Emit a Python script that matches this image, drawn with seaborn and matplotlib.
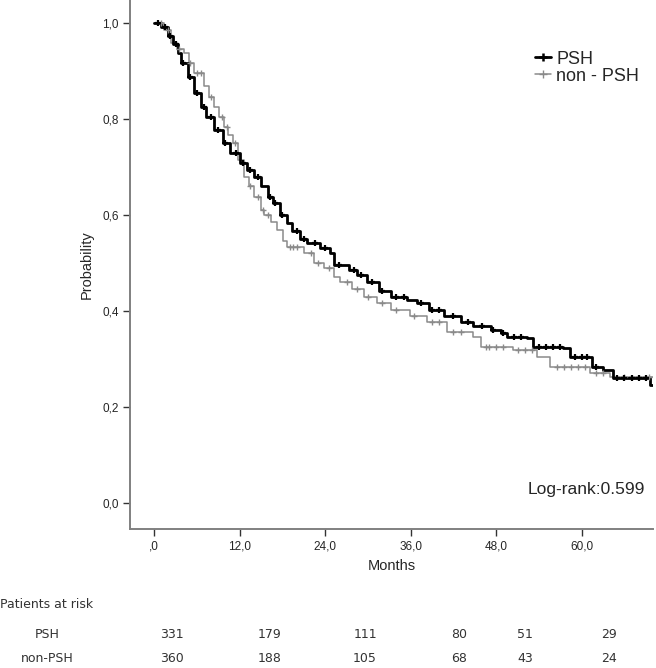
import numpy as np
import pandas as pd
import seaborn as sns
import matplotlib.pyplot as plt

# Kaplan-Meier steps (months, survival probability)
psh_time = [0, 1.0, 1.9, 2.6, 3.3, 3.7, 4.7, 5.6, 6.5, 7.2, 8.4, 9.6, 10.7, 12.1, 13.0,
            14.0, 15.0, 15.9, 16.6, 17.7, 18.6, 19.4, 20.5, 21.5, 23.3, 24.7, 25.2, 27.3,
            28.5, 29.9, 31.5, 33.2, 35.5, 36.9, 38.5, 40.6, 43.0, 44.8, 47.2, 48.6, 49.5,
            52.3, 53.2, 57.4, 58.4, 61.4, 63.0, 64.4, 69.6, 70.0]
psh_surv = [1.0, 0.99, 0.971, 0.955, 0.936, 0.915, 0.887, 0.853, 0.825, 0.804, 0.776,
            0.749, 0.728, 0.707, 0.692, 0.679, 0.66, 0.637, 0.624, 0.60, 0.582, 0.565,
            0.55, 0.54, 0.53, 0.52, 0.496, 0.485, 0.474, 0.46, 0.44, 0.429, 0.422, 0.415,
            0.401, 0.388, 0.377, 0.367, 0.36, 0.353, 0.346, 0.342, 0.325, 0.322, 0.304,
            0.283, 0.276, 0.259, 0.245, 0.245]

npsh_time = [0, 1.4, 2.3, 3.2, 4.2, 4.9, 5.6, 7.0, 7.7, 8.4, 9.1, 9.8, 10.4, 11.0, 11.7,
             12.6, 13.3, 14.0, 15.0, 15.4, 16.4, 17.3, 18.1, 18.7, 21.0, 22.4, 23.8, 25.2,
             26.1, 27.8, 29.4, 31.3, 33.2, 35.9, 38.3, 41.1, 44.8, 45.8, 50.4, 53.7, 55.6,
             61.2, 64.0, 70.0]
npsh_surv = [1.0, 0.985, 0.957, 0.945, 0.936, 0.915, 0.894, 0.867, 0.845, 0.825, 0.803,
             0.783, 0.765, 0.749, 0.714, 0.679, 0.66, 0.637, 0.61, 0.60, 0.585, 0.568,
             0.545, 0.533, 0.52, 0.499, 0.488, 0.471, 0.46, 0.445, 0.429, 0.415, 0.401,
             0.388, 0.377, 0.356, 0.346, 0.325, 0.318, 0.304, 0.283, 0.27, 0.262, 0.262]

# censored observations (+ marks)
psh_cens = [0.5, 1.5, 2.2, 3.0, 4.0, 5.0, 6.0, 7.0, 8.0, 9.0, 10.0, 11.5, 12.5, 13.5, 14.5,
            16.2, 17.0, 18.0, 20.0, 21.0, 22.5, 24.0, 26.0, 28.0, 29.0, 30.5, 32.0, 34.0,
            35.0, 37.5, 39.0, 40.0, 42.0, 44.0, 46.0, 47.5, 49.0, 50.5, 51.5, 54.0, 55.0,
            56.0, 57.0, 59.0, 60.0, 60.8, 62.0, 65.0, 66.0, 67.0, 68.0, 69.0]
npsh_cens = [1.0, 2.0, 3.5, 5.0, 6.0, 6.5, 8.0, 9.5, 10.2, 11.3, 13.5, 14.5, 15.2, 16.0,
             19.0, 19.5, 20.0, 22.0, 23.0, 24.5, 27.0, 28.5, 30.0, 32.0, 34.0, 36.5, 39.0,
             40.0, 42.0, 43.0, 46.5, 47.0, 48.0, 49.0, 51.0, 52.0, 53.0, 56.5, 57.5, 58.5,
             59.5, 60.5, 62.0, 63.0, 66.0, 69.5]

x_ticks = [0, 12, 24, 36, 48, 60]
x_labels = [',0', '12,0', '24,0', '36,0', '48,0', '60,0']
y_ticks = [0.0, 0.2, 0.4, 0.6, 0.8, 1.0]
y_labels = ['0,0', '0,2', '0,4', '0,6', '0,8', '1,0']

risk_groups = ['PSH', 'non-PSH']
risk_psh = [331, 179, 111, 80, 51, 29]
risk_npsh = [360, 188, 105, 68, 43, 24]
risk_xpos = [172, 270, 365, 459, 525, 609]  # pixel positions of the columns

sns.set_style('white')
plt.rcParams['font.family'] = ['Liberation Sans', 'DejaVu Sans']

fig = plt.figure(figsize=(6.56, 6.68), dpi=100)
ax = fig.add_axes([130 / 656, 1 - 529 / 668, 523 / 656, 529 / 668])

df_psh = pd.DataFrame({'time': psh_time, 'surv': psh_surv})
df_npsh = pd.DataFrame({'time': npsh_time, 'surv': npsh_surv})

sns.lineplot(data=df_npsh, x='time', y='surv', ax=ax, color='#8a8a8a', linewidth=1.1,
             drawstyle='steps-post', estimator=None)
sns.lineplot(data=df_psh, x='time', y='surv', ax=ax, color='black', linewidth=2.0,
             drawstyle='steps-post', estimator=None)


def step_at(times, surv, t):
    i = np.searchsorted(times, t, side='right') - 1
    return np.array(surv)[i]


ax.plot(npsh_cens, step_at(npsh_time, npsh_surv, npsh_cens), linestyle='none',
        marker='+', color='#8a8a8a', markersize=5, markeredgewidth=1.0)
ax.plot(psh_cens, step_at(psh_time, psh_surv, psh_cens), linestyle='none',
        marker='+', color='black', markersize=5, markeredgewidth=1.6)

ax.set_xlim(-3.4, 70)
ax.set_ylim(-0.055, 1.047)
ax.set_xticks(x_ticks)
ax.set_xticklabels(x_labels)
ax.set_yticks(y_ticks)
ax.set_yticklabels(y_labels)
ax.tick_params(axis='both', direction='out', length=5, width=1, color='#333333',
               labelsize=8.5, pad=3, bottom=True, left=True)
for side in ['top', 'right']:
    ax.spines[side].set_visible(False)
for side in ['left', 'bottom']:
    ax.spines[side].set_color('#808080')
    ax.spines[side].set_linewidth(1.4)

ax.set_xlabel('Months', fontsize=10.5, labelpad=5)
ax.set_ylabel('Probability', fontsize=10.5, labelpad=6)

h1, = ax.plot([], [], color='black', linewidth=2.0, marker='+', markersize=6, markeredgewidth=1.8)
h2, = ax.plot([], [], color='#8a8a8a', linewidth=1.1, marker='+', markersize=6)
ax.legend([h1, h2], ['PSH', 'non - PSH'], loc='upper left', bbox_to_anchor=(0.76, 0.918),
          frameon=False, fontsize=13, handlelength=0.9, handletextpad=0.3,
          labelspacing=0.0, borderaxespad=0)

ax.text(0.985, 0.075, 'Log-rank:0.599', transform=ax.transAxes, ha='right', va='center',
        fontsize=12.5)

# patients at risk table
tfont = ['DejaVu Sans']
tsize = 9
fig.text(0, 1 - 604 / 668, 'Patients at risk', fontsize=tsize, va='center', ha='left',
         family=tfont, color='#333333')
for row_y, name, vals in [(634, risk_groups[0], risk_psh), (658, risk_groups[1], risk_npsh)]:
    fig.text(47 / 656, 1 - row_y / 668, name, fontsize=tsize, va='center', ha='center',
             family=tfont, color='#333333')
    for xp, v in zip(risk_xpos, vals):
        fig.text(xp / 656, 1 - row_y / 668, str(v), fontsize=tsize, va='center', ha='center',
                 family=tfont, color='#333333')

fig.savefig('out.png', dpi=100)
